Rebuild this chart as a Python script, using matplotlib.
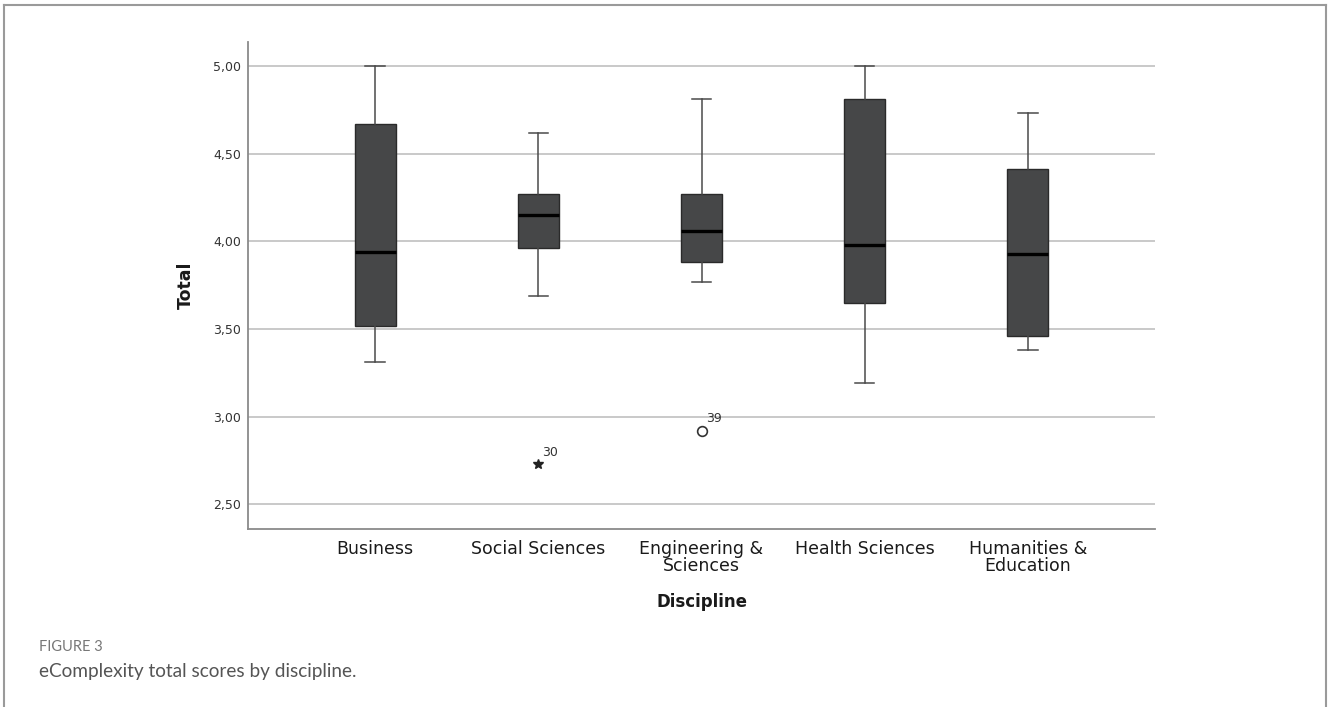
import matplotlib
matplotlib.use("Agg")
import matplotlib.pyplot as plt
from matplotlib.lines import Line2D

categories = ["Business", "Social Sciences", "Engineering &\nSciences",
              "Health Sciences", "Humanities &\nEducation"]
whisker_low = [3.31, 3.69, 3.77, 3.19, 3.38]
q1 = [3.52, 3.96, 3.88, 3.65, 3.46]
median = [3.94, 4.15, 4.06, 3.98, 3.93]
q3 = [4.67, 4.27, 4.27, 4.81, 4.41]
whisker_high = [5.00, 4.62, 4.81, 5.00, 4.73]

# outliers: (category index, value, case label, marker)
outlier_cat = [1, 2]
outlier_val = [2.73, 2.92]
outlier_lab = ["30", "39"]
outlier_marker = ["*", "o"]

yticks = [2.5, 3.0, 3.5, 4.0, 4.5, 5.0]
ytick_labels = ["2,50", "3,00", "3,50", "4,00", "4,50", "5,00"]

FONT = ["DejaVu Sans"]

W, H = 1328, 707
fig = plt.figure(figsize=(W / 100, H / 100), dpi=100)
fig.patch.set_facecolor("white")

ax = fig.add_axes([248 / W, 1 - 529 / H, (1155 - 248) / W, (529 - 42) / H])

stats = []
for i in range(len(categories)):
    stats.append(dict(whislo=whisker_low[i], q1=q1[i], med=median[i],
                      q3=q3[i], whishi=whisker_high[i], fliers=[]))

ax.bxp(stats, positions=range(len(categories)), widths=0.25,
       capwidths=0.12, patch_artist=True, showfliers=False,
       boxprops=dict(facecolor="#464748", edgecolor="#2a2a2a", linewidth=1.0),
       medianprops=dict(color="#000000", linewidth=2.4),
       whiskerprops=dict(color="#4a4a4a", linewidth=1.1),
       capprops=dict(color="#4a4a4a", linewidth=1.1),
       zorder=3)

for c, v, lab, m in zip(outlier_cat, outlier_val, outlier_lab, outlier_marker):
    if m == "o":
        ax.plot([c], [v], marker="o", markersize=7, markerfacecolor="white",
                markeredgecolor="#333333", markeredgewidth=1.2, linestyle="none", zorder=4)
    else:
        ax.plot([c], [v], marker="*", markersize=7, color="#222222",
                linestyle="none", zorder=4)
    ax.annotate(lab, (c, v), xytext=(3, 4), textcoords="offset points",
                fontsize=9, color="#333333", ha="left", va="bottom",
                family=FONT)

ax.set_xlim(-0.78, 4.78)
ax.set_ylim(2.36, 5.137)
ax.set_yticks(yticks)
ax.set_yticklabels(ytick_labels)
ax.set_xticks(range(len(categories)))
ax.set_xticklabels(categories, linespacing=0.93)

ax.yaxis.grid(True, color="#c9c9c9", linewidth=1.4, zorder=0)
ax.set_axisbelow(True)
for s in ["top", "right"]:
    ax.spines[s].set_visible(False)
for s in ["left", "bottom"]:
    ax.spines[s].set_color("#8a8a8a")
    ax.spines[s].set_linewidth(1.3)

ax.tick_params(axis="both", length=0)
ax.tick_params(axis="y", pad=5, labelsize=9, labelcolor="#333333")
ax.tick_params(axis="x", pad=8, labelsize=12.5, labelcolor="#1a1a1a")
for t in ax.get_yticklabels():
    t.set_family(FONT)
for t in ax.get_xticklabels():
    t.set_family(FONT)

ax.set_ylabel("Total", fontsize=12.5, fontweight="bold", color="#1a1a1a",
              family=FONT, labelpad=13)
ax.set_xlabel("Discipline", fontsize=12, fontweight="bold", color="#1a1a1a",
              family=FONT, labelpad=13)

# outer frame of the figure panel
fc = "#9a9a9a"
fig.add_artist(Line2D([4 / W, 4 / W], [0, 1 - 5 / H], color=fc, linewidth=1.5))
fig.add_artist(Line2D([4 / W, 1326 / W], [1 - 5 / H, 1 - 5 / H], color=fc, linewidth=1.5))
fig.add_artist(Line2D([1326 / W, 1326 / W], [0, 1 - 5 / H], color=fc, linewidth=1.5))

fig.text(39 / W, 1 - 647 / H, "FIGURE 3", fontsize=10.5, color="#777777",
         family=["Lato", "DejaVu Sans"], va="center", ha="left")
fig.text(39 / W, 1 - 671 / H, "eComplexity total scores by discipline.", fontsize=13.7,
         color="#555555", family=["Lato", "DejaVu Sans"],
         va="center", ha="left")

fig.savefig("out.png", dpi=100, facecolor="white")
